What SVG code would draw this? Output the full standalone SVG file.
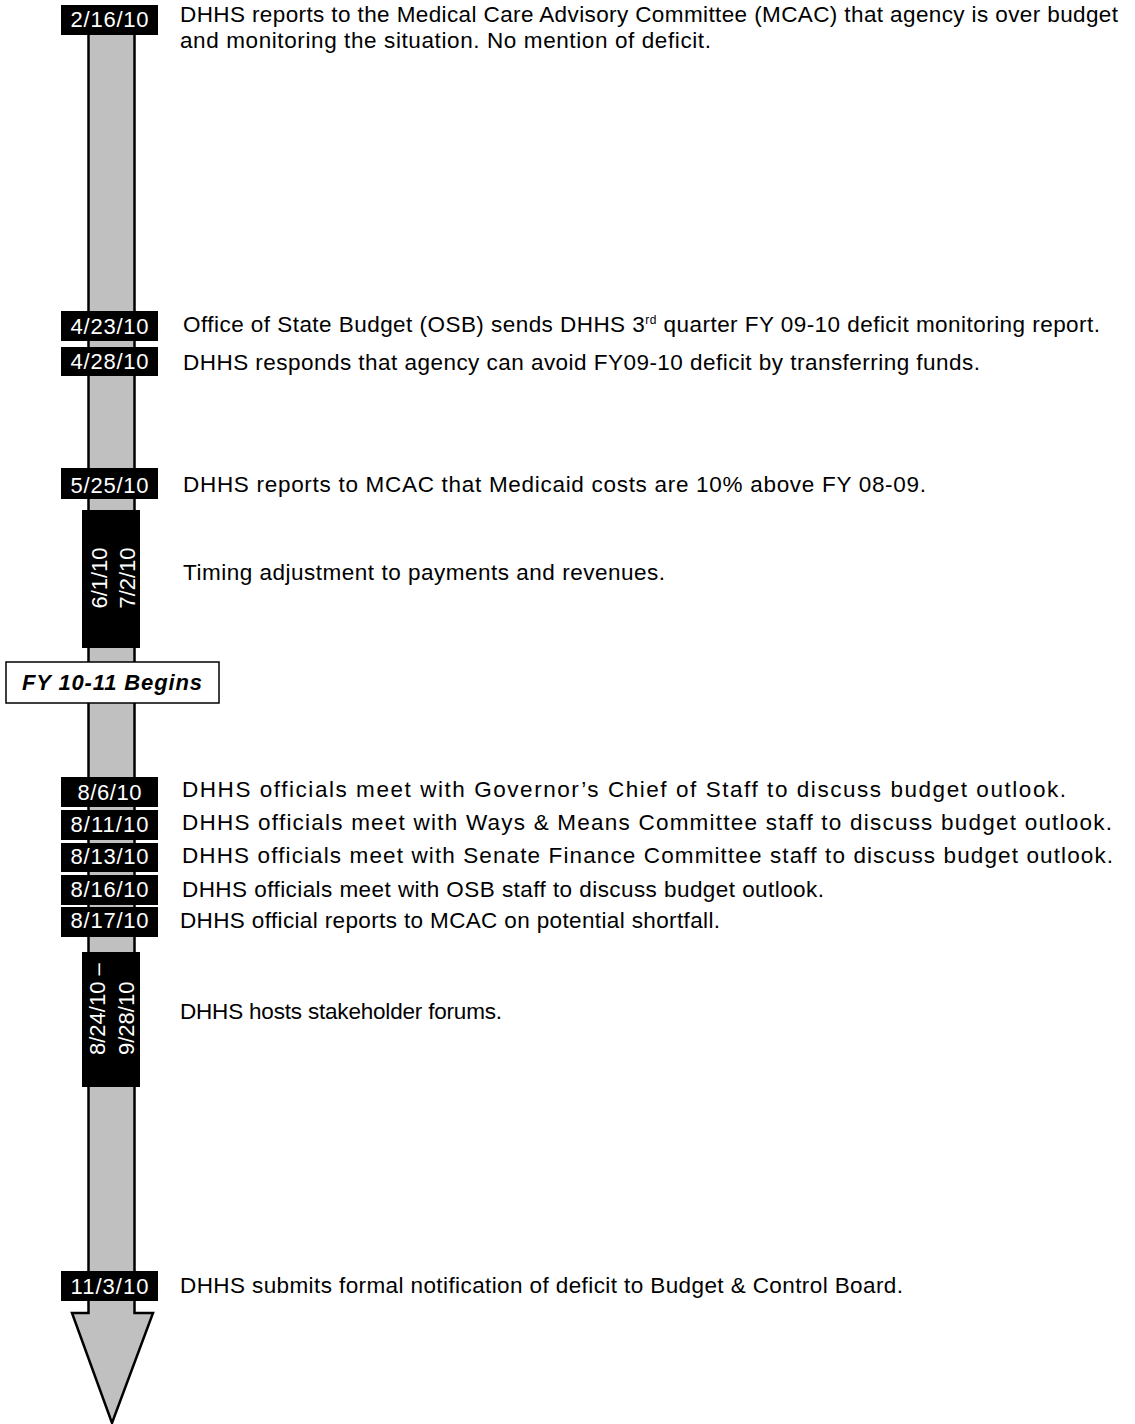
<svg xmlns="http://www.w3.org/2000/svg" width="1135" height="1424" viewBox="0 0 1135 1424">
<style>
.date{fill:#000}
.dt{font-family:"Liberation Sans",Arial,sans-serif;font-size:22px;fill:#fff;text-anchor:middle}
.vt{font-family:"Liberation Sans",Arial,sans-serif;font-size:22px;fill:#fff}
.tx{font-family:"Liberation Sans",Arial,sans-serif;font-size:22.5px;fill:#000}
.fy{font-family:"Liberation Sans",Arial,sans-serif;font-size:22px;font-weight:bold;font-style:italic;fill:#000}
</style>
<rect width="1135" height="1424" fill="#fff"/>
<g id="connectors">
<polygon id="timeline-arrow" points="88.5,20 88.5,1313 72,1313 112,1423 153,1313 134.5,1313 134.5,20" fill="#c0c0c0" stroke="#000" stroke-width="2.5" stroke-linejoin="miter"/>
</g>
<g id="n1"><rect class="date" x="61" y="5" width="97" height="30"/><text class="dt" x="109.5" y="27" textLength="78" lengthAdjust="spacing">2/16/10</text>
<text class="tx" x="180" y="22" textLength="938" lengthAdjust="spacing">DHHS reports to the Medical Care Advisory Committee (MCAC) that agency is over budget</text>
<text class="tx" x="180" y="48" textLength="531" lengthAdjust="spacing">and monitoring the situation. No mention of deficit.</text></g>
<g id="n2"><rect class="date" x="61" y="311" width="97" height="30"/><text class="dt" x="109.5" y="334" textLength="78" lengthAdjust="spacing">4/23/10</text>
<text class="tx" x="183" y="332" textLength="917" lengthAdjust="spacing">Office of State Budget (OSB) sends DHHS 3<tspan font-size="12" dy="-8">rd</tspan><tspan dy="8"> quarter FY 09-10 deficit monitoring report.</tspan></text></g>
<g id="n3"><rect class="date" x="61" y="347" width="97" height="29"/><text class="dt" x="109.5" y="369" textLength="78" lengthAdjust="spacing">4/28/10</text>
<text class="tx" x="183" y="370" textLength="797" lengthAdjust="spacing">DHHS responds that agency can avoid FY09-10 deficit by transferring funds.</text></g>
<g id="n4"><rect class="date" x="61" y="468" width="97" height="31"/><text class="dt" x="109.5" y="493" textLength="78" lengthAdjust="spacing">5/25/10</text>
<text class="tx" x="183" y="492" textLength="743" lengthAdjust="spacing">DHHS reports to MCAC that Medicaid costs are 10% above FY 08-09.</text></g>
<g id="n5"><rect class="date" x="82" y="510" width="58" height="138"/>
<text class="vt" transform="translate(107,578) rotate(-90)" text-anchor="middle">6/1/10</text>
<text class="vt" transform="translate(135,578) rotate(-90)" text-anchor="middle">7/2/10</text>
<text class="tx" x="183" y="580" textLength="482" lengthAdjust="spacing">Timing adjustment to payments and revenues.</text></g>
<g id="n6"><rect x="6" y="662" width="213" height="41" fill="#fff" stroke="#000" stroke-width="1.5"/>
<text class="fy" x="22" y="690" textLength="180" lengthAdjust="spacing">FY 10-11 Begins</text></g>
<g id="n7"><rect class="date" x="61" y="777" width="97" height="30"/><text class="dt" x="109.5" y="800" textLength="64" lengthAdjust="spacing">8/6/10</text>
<text class="tx" x="182" y="797" textLength="884" lengthAdjust="spacing">DHHS officials meet with Governor’s Chief of Staff to discuss budget outlook.</text></g>
<g id="n8"><rect class="date" x="61" y="810" width="97" height="30"/><text class="dt" x="109.5" y="832" textLength="78" lengthAdjust="spacing">8/11/10</text>
<text class="tx" x="182" y="830" textLength="930" lengthAdjust="spacing">DHHS officials meet with Ways &amp; Means Committee staff to discuss budget outlook.</text></g>
<g id="n9"><rect class="date" x="61" y="843" width="97" height="29"/><text class="dt" x="109.5" y="864" textLength="78" lengthAdjust="spacing">8/13/10</text>
<text class="tx" x="182" y="863" textLength="931" lengthAdjust="spacing">DHHS officials meet with Senate Finance Committee staff to discuss budget outlook.</text></g>
<g id="n10"><rect class="date" x="61" y="875" width="97" height="30"/><text class="dt" x="109.5" y="897" textLength="78" lengthAdjust="spacing">8/16/10</text>
<text class="tx" x="182" y="897" textLength="642" lengthAdjust="spacing">DHHS officials meet with OSB staff to discuss budget outlook.</text></g>
<g id="n11"><rect class="date" x="61" y="907" width="97" height="30"/><text class="dt" x="109.5" y="928" textLength="78" lengthAdjust="spacing">8/17/10</text>
<text class="tx" x="180" y="928" textLength="540" lengthAdjust="spacing">DHHS official reports to MCAC on potential shortfall.</text></g>
<g id="n12"><rect class="date" x="82" y="952" width="58" height="135"/>
<text class="vt" transform="translate(105,1055) rotate(-90)">8/24/10 –</text>
<text class="vt" transform="translate(134,1055) rotate(-90)">9/28/10</text>
<text class="tx" x="180" y="1019" textLength="322" lengthAdjust="spacing">DHHS hosts stakeholder forums.</text></g>
<g id="n13"><rect class="date" x="61" y="1271" width="97" height="30"/><text class="dt" x="109.5" y="1294" textLength="78" lengthAdjust="spacing">11/3/10</text>
<text class="tx" x="180" y="1293" textLength="723" lengthAdjust="spacing">DHHS submits formal notification of deficit to Budget &amp; Control Board.</text></g>
</svg>
